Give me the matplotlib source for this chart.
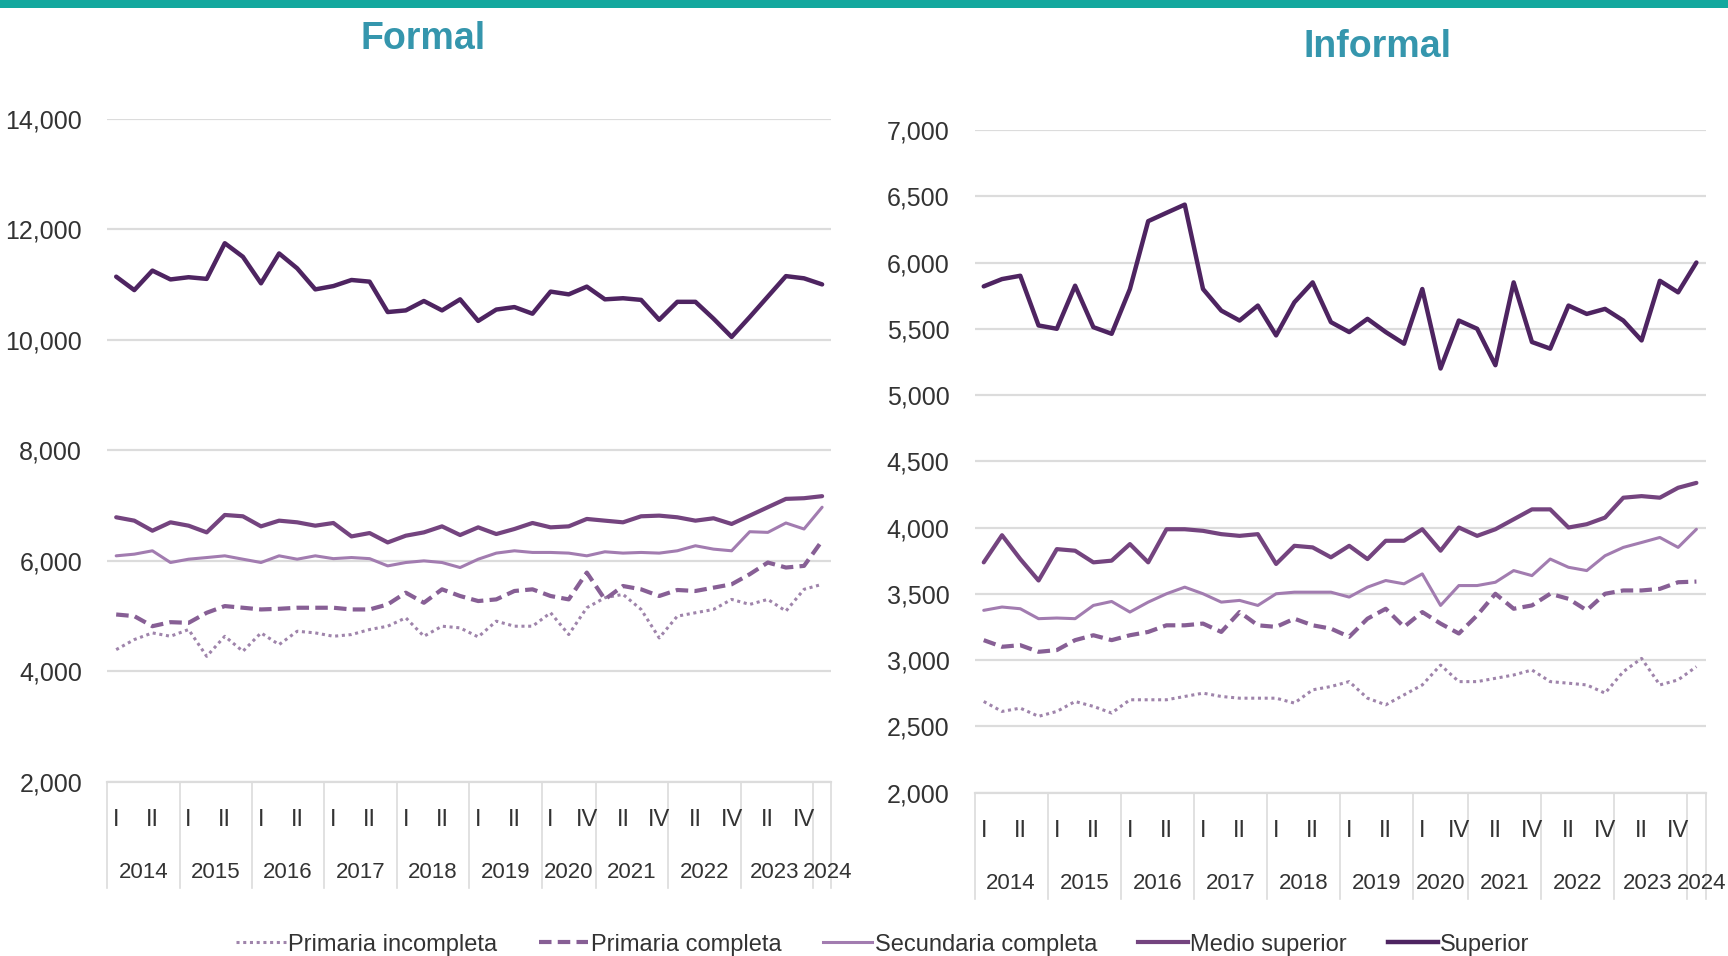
import matplotlib
matplotlib.use('Agg')
import matplotlib.pyplot as plt
from matplotlib.ticker import FuncFormatter
from matplotlib.transforms import blended_transform_factory

# categorias: trimestres 2014-I a 2024-I (falta 2020-II)
years = ['2014', '2015', '2016', '2017', '2018', '2019', '2020', '2021', '2022', '2023', '2024']
year_sizes = [4, 4, 4, 4, 4, 4, 3, 4, 4, 4, 1]
quarter_labels = ['I', 'II'] * 6 + ['I', 'IV'] + ['II', 'IV'] * 3

series_names = ['Primaria incompleta', 'Primaria completa', 'Secundaria completa',
                'Medio superior', 'Superior']

# Formal
formal_prim_inc = [4394, 4576, 4697, 4636, 4758, 4273, 4636, 4364, 4697, 4485,
                   4727, 4697, 4636, 4667, 4758, 4818, 4970, 4636, 4818, 4788,
                   4624, 4909, 4818, 4818, 5061, 4667, 5152, 5333, 5394, 5121,
                   4606, 5000, 5061, 5121, 5303, 5212, 5303, 5091, 5485, 5576]
formal_prim_com = [5030, 5000, 4818, 4891, 4879, 5061, 5182, 5152, 5121, 5133,
                   5152, 5152, 5152, 5121, 5121, 5212, 5424, 5242, 5485, 5364,
                   5273, 5303, 5455, 5485, 5364, 5303, 5788, 5303, 5545, 5485,
                   5364, 5473, 5455, 5515, 5576, 5758, 5970, 5879, 5909, 6364]
formal_secu = [6091, 6121, 6182, 5970, 6030, 6060, 6091, 6030, 5970, 6091,
               6030, 6091, 6040, 6060, 6040, 5909, 5970, 6000, 5970, 5879,
               6030, 6140, 6182, 6152, 6152, 6140, 6091, 6164, 6140, 6152,
               6140, 6182, 6273, 6212, 6182, 6527, 6515, 6685, 6576, 6970]
formal_medio = [6788, 6727, 6545, 6697, 6636, 6515, 6830, 6806, 6624, 6727,
                6697, 6636, 6685, 6442, 6503, 6333, 6455, 6515, 6624, 6467,
                6606, 6485, 6576, 6685, 6606, 6624, 6758, 6727, 6697, 6806,
                6818, 6788, 6727, 6770, 6667, 6818, 6970, 7121, 7133, 7170]
formal_sup = [11140, 10897, 11250, 11090, 11130, 11100, 11745, 11500, 11020, 11560,
              11290, 10910, 10970, 11080, 11050, 10500, 10530, 10700, 10530, 10730,
              10340, 10545, 10590, 10470, 10870, 10820, 10960, 10730, 10750, 10720,
              10360, 10685, 10685, 10380, 10050, 10410, 10780, 11150, 11110, 11000]

# Informal
informal_prim_inc = [2687, 2612, 2637, 2575, 2612, 2687, 2650, 2600, 2700, 2700,
                     2700, 2725, 2750, 2725, 2712, 2712, 2712, 2675, 2775, 2800,
                     2837, 2712, 2662, 2737, 2812, 2962, 2837, 2837, 2862, 2887,
                     2925, 2837, 2825, 2812, 2750, 2912, 3012, 2812, 2850, 2950]
informal_prim_com = [3150, 3100, 3112, 3062, 3075, 3150, 3187, 3150, 3187, 3212,
                     3262, 3262, 3275, 3212, 3362, 3262, 3250, 3312, 3262, 3237,
                     3175, 3312, 3387, 3250, 3362, 3275, 3200, 3337, 3500, 3387,
                     3412, 3500, 3462, 3375, 3500, 3525, 3525, 3537, 3587, 3592]
informal_secu = [3375, 3400, 3387, 3312, 3317, 3312, 3412, 3442, 3362, 3437,
                 3500, 3550, 3500, 3437, 3450, 3412, 3500, 3512, 3512, 3512,
                 3475, 3550, 3600, 3575, 3650, 3412, 3562, 3562, 3587, 3675,
                 3637, 3762, 3700, 3675, 3787, 3850, 3887, 3925, 3850, 3987]
informal_medio = [3737, 3942, 3762, 3600, 3837, 3825, 3737, 3750, 3875, 3737,
                  3987, 3987, 3975, 3950, 3937, 3950, 3725, 3862, 3850, 3775,
                  3862, 3762, 3900, 3900, 3987, 3825, 4000, 3937, 3987, 4062,
                  4137, 4137, 4000, 4025, 4075, 4225, 4237, 4225, 4300, 4337]
informal_sup = [5820, 5875, 5900, 5525, 5500, 5825, 5512, 5462, 5800, 6312,
                6375, 6437, 5800, 5637, 5562, 5675, 5450, 5700, 5850, 5550,
                5475, 5575, 5475, 5387, 5800, 5200, 5562, 5500, 5225, 5850,
                5400, 5350, 5675, 5612, 5650, 5562, 5412, 5862, 5775, 6000]

styles = [
    dict(color='#9f84ab', lw=2.2, ls=(0, (1, 1.2))),
    dict(color='#875f95', lw=3.0, ls=(0, (3, 1.5))),
    dict(color='#a27cb0', lw=2.2, ls='-'),
    dict(color='#74447f', lw=3.0, ls='-'),
    dict(color='#4e2461', lw=3.2, ls='-'),
]

FONT = ['Liberation Sans Narrow', 'Liberation Sans', 'DejaVu Sans']
plt.rcParams['font.family'] = FONT
GRID = '#dcdcdc'
TXT = '#333333'

fig = plt.figure(figsize=(17.28, 9.56), dpi=100)
fig.patch.set_facecolor('white')

# barra superior
fig.add_artist(plt.Rectangle((0, 0.992), 1, 0.008, transform=fig.transFigure,
                             color='#13a89e', lw=0))


def draw_panel(ax, data, ylim, ystep, title, title_xy):
    n = len(data[0])
    x = list(range(n))
    for vals, st in zip(data, styles):
        ax.plot(x, vals, solid_capstyle='round', dash_capstyle='butt', **st)
    ax.set_xlim(-0.5, n - 0.5)
    ax.set_ylim(*ylim)
    ax.set_yticks(range(ylim[0], ylim[1] + 1, ystep))
    ax.yaxis.set_major_formatter(FuncFormatter(lambda v, p: f'{v:,.0f}'))
    ax.grid(axis='y', color=GRID, lw=1.6)
    ax.set_axisbelow(True)
    for s in ['top', 'right', 'left']:
        ax.spines[s].set_visible(False)
    ax.spines['bottom'].set_color(GRID)
    ax.spines['bottom'].set_linewidth(1.6)
    ax.tick_params(axis='y', length=0, pad=18, labelsize=18, labelcolor=TXT)
    ax.set_xticks([])

    # eje de categorias de dos niveles
    tr = blended_transform_factory(ax.transData, ax.transAxes)
    for i, lab in enumerate(quarter_labels):
        ax.text(2 * i, -0.058, lab, transform=tr, ha='center', va='center',
                fontsize=17, color=TXT)
    start = 0
    seps = [-0.5]
    for yr, size in zip(years, year_sizes):
        xc = start + (size - 1) / 2
        # 2023 y 2024 quedan muy juntos: se separan un poco
        if yr == '2023':
            xc -= 0.15
        if yr == '2024':
            xc += 0.3
        ax.text(xc, -0.137, yr, transform=tr, ha='center',
                va='center', fontsize=16, color=TXT)
        start += size
        seps.append(start - 0.5)
    for s in seps:
        ax.plot([s, s], [0, -0.16], transform=tr, color=GRID, lw=1.2, clip_on=False)

    fig.text(title_xy[0], title_xy[1], title, ha='center', va='center',
             fontsize=27, fontweight='bold', color='#3596ad')


ax1 = fig.add_axes([0.062, 0.182, 0.419, 0.694])
draw_panel(ax1, [formal_prim_inc, formal_prim_com, formal_secu, formal_medio, formal_sup],
           (2000, 14000), 2000, 'Formal', (0.245, 0.959))

ax2 = fig.add_axes([0.564, 0.171, 0.423, 0.693])
draw_panel(ax2, [informal_prim_inc, informal_prim_com, informal_secu, informal_medio, informal_sup],
           (2000, 7000), 500, 'Informal', (0.797, 0.951))

handles = [plt.Line2D([], [], **st) for st in styles]
fig.legend(handles, series_names, loc='center', bbox_to_anchor=(0.511, 0.012), ncol=5,
           frameon=False, fontsize=17, handlelength=2.1, handletextpad=0.1,
           columnspacing=1.75, labelcolor=TXT)

fig.savefig('out.png', dpi=100, facecolor='white')
